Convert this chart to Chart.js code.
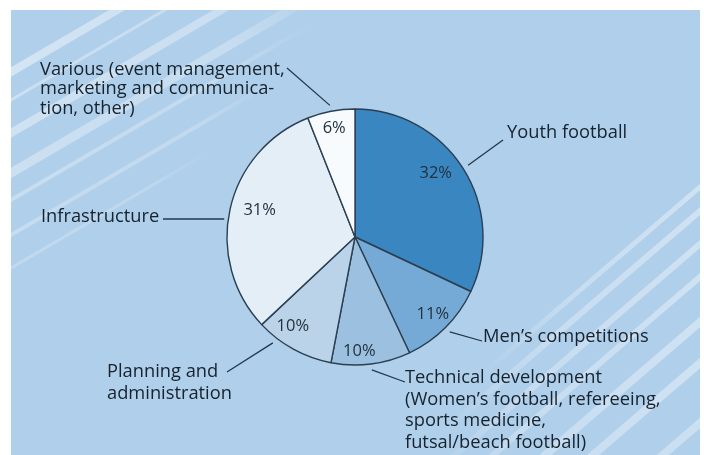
<!DOCTYPE html>
<html>
<head>
<meta charset="utf-8">
<script src="https://cdn.jsdelivr.net/npm/chart.js@4.4.1/dist/chart.umd.min.js"></script>
<style>
  html, body { margin: 0; padding: 0; background: #ffffff; }
  #wrap { width: 704px; height: 455px; position: relative; }
</style>
</head>
<body>
<div id="wrap"><canvas id="pie-chart"></canvas></div>
<script>
// datos del grafico
const categorias = [
  "Youth football",
  "Men's competitions",
  "Technical development",
  "Planning and administration",
  "Infrastructure",
  "Various",
];
const porcentajes = [32, 11, 10, 10, 31, 6];
const colores = ["#3a86c0", "#76aad6", "#9cc0df", "#bad3e8", "#e3eef7", "#f8fbfe"];

// textos de las etiquetas (una linea por elemento)
const etiquetas = [
  ["Youth football"],
  ["Men\u2019s competitions"],
  ["Technical development", "(Women\u2019s football, refereeing,", "sports medicine,", "futsal/beach football)"],
  ["Planning and", "administration"],
  ["Infrastructure"],
  ["Various (event management,", "marketing and communica-", "tion, other)"],
];

// posicion de cada etiqueta y de la linea guia
const layoutEtiquetas = [
  { x: 507, y: 138, lh: 0, end: [503, 140], nudge: 0 },
  { x: 483, y: 342, lh: 0, end: [482, 341], nudge: 0 },
  { x: 405, y: 383, lh: 21.7, end: [405, 382], nudge: 0 },
  { x: 107, y: 377, lh: 21.7, end: [227, 372], nudge: 9 },
  { x: 41, y: 222, lh: 0, end: [163, 219], nudge: 0 },
  { x: 40, y: 75, lh: 19.3, end: [287, 68], nudge: 0 },
];
// porcentaje dentro de cada porcion: ajuste de angulo y radio
const layoutPct = [
  { nudge: -6, r: 103 },
  { nudge: 0, r: 110 },
  { nudge: 5, r: 114 },
  { nudge: 6, r: 109 },
  { nudge: 3, r: 99 },
  { nudge: 0, r: 111 },
];

const FONT = "'Open Sans', 'Noto Sans', sans-serif";
const TEXTO = "#16222e";

// fondo azul con rayas diagonales
const fondoPlugin = {
  id: "fondo",
  beforeDraw(chart) {
    const ctx = chart.ctx;
    ctx.save();
    ctx.fillStyle = "#ffffff";
    ctx.fillRect(0, 0, chart.width, chart.height);
    ctx.fillStyle = "#b0cfea";
    ctx.fillRect(11, 10, 689, 445);
    ctx.beginPath();
    ctx.rect(11, 10, 689, 445);
    ctx.clip();
    ctx.lineCap = "butt";
    // rayas arriba a la izquierda
    const rayasA = [[72, 8, 0.45, 260], [100, 3, 0.35, 330], [133, 8, 0.4, 330], [173, 9, 0.35, 320], [200, 4, 0.3, 300], [235, 4, 0.28, 260], [268, 3, 0.22, 200]];
    rayasA.forEach(([y0, w, a, len]) => {
      const x1 = 11 + len, y1 = y0 - len * 0.585;
      const g = ctx.createLinearGradient(11, y0, x1, y1);
      g.addColorStop(0, `rgba(255,255,255,${a})`);
      g.addColorStop(0.7, `rgba(255,255,255,${a * 0.8})`);
      g.addColorStop(1, "rgba(255,255,255,0)");
      ctx.strokeStyle = g;
      ctx.lineWidth = w;
      ctx.beginPath();
      ctx.moveTo(0, y0 + 11 * 0.585);
      ctx.lineTo(x1, y1);
      ctx.stroke();
    });
    // rayas abajo a la derecha
    const rayasB = [[187, 5, 0.4, 220], [211, 6, 0.4, 260], [244, 6, 0.4, 280], [277, 6, 0.4, 300], [322, 8, 0.4, 300], [363, 8, 0.4, 300], [423, 8, 0.35, 260]];
    rayasB.forEach(([y0, w, a, len]) => {
      const x1 = 700 - len, y1 = y0 + len * 0.86;
      const g = ctx.createLinearGradient(700, y0, x1, y1);
      g.addColorStop(0, `rgba(255,255,255,${a})`);
      g.addColorStop(0.6, `rgba(255,255,255,${a * 0.7})`);
      g.addColorStop(1, "rgba(255,255,255,0)");
      ctx.strokeStyle = g;
      ctx.lineWidth = w;
      ctx.beginPath();
      ctx.moveTo(710, y0 - 10 * 0.86);
      ctx.lineTo(x1, y1);
      ctx.stroke();
    });
    ctx.restore();
  },
};

// porcentajes, etiquetas y lineas guia
const etiquetasPlugin = {
  id: "etiquetas",
  afterDatasetsDraw(chart) {
    const ctx = chart.ctx;
    const meta = chart.getDatasetMeta(0);
    ctx.save();
    meta.data.forEach((arc, i) => {
      const { x, y, startAngle, endAngle, outerRadius } = arc.getProps(["x", "y", "startAngle", "endAngle", "outerRadius"], true);
      const mid = (startAngle + endAngle) / 2;

      // porcentaje
      const p = layoutPct[i];
      const ap = mid + (p.nudge * Math.PI) / 180;
      ctx.fillStyle = "#22323f";
      ctx.font = `16.5px ${FONT}`;
      ctx.textAlign = "center";
      ctx.textBaseline = "middle";
      ctx.fillText(porcentajes[i] + "%", x + Math.cos(ap) * p.r, y + Math.sin(ap) * p.r);

      // linea guia
      const l = layoutEtiquetas[i];
      const al = mid + (l.nudge * Math.PI) / 180;
      const r0 = outerRadius + 6;
      let sx = x + Math.cos(al) * r0;
      let sy = y + Math.sin(al) * r0;
      if (i === 4) sy = l.end[1];
      ctx.strokeStyle = "#22384c";
      ctx.lineWidth = 1.3;
      ctx.beginPath();
      ctx.moveTo(sx, sy);
      ctx.lineTo(l.end[0], l.end[1]);
      ctx.stroke();

      // texto
      ctx.fillStyle = TEXTO;
      ctx.font = `18.3px ${FONT}`;
      ctx.textAlign = "left";
      ctx.textBaseline = "alphabetic";
      etiquetas[i].forEach((linea, k) => {
        ctx.fillText(linea, l.x, l.y + k * l.lh);
      });
    });
    ctx.restore();
  },
};

const contenedorPie = document.querySelector("#pie-chart").getContext("2d");

const pieChart = new Chart(contenedorPie, {
  type: "pie",
  data: {
    labels: categorias,
    datasets: [
      {
        data: porcentajes,
        backgroundColor: colores,
        borderColor: "#2b3f52",
        borderWidth: 1.4,
        radius: 128,
      },
    ],
  },
  options: {
    responsive: true,
    maintainAspectRatio: false,
    animation: false,
    layout: { padding: { left: 100, right: 94, top: 99, bottom: 80 } },
    plugins: {
      legend: { display: false },
      tooltip: { enabled: false },
    },
  },
  plugins: [fondoPlugin, etiquetasPlugin],
});
</script>
</body>
</html>
